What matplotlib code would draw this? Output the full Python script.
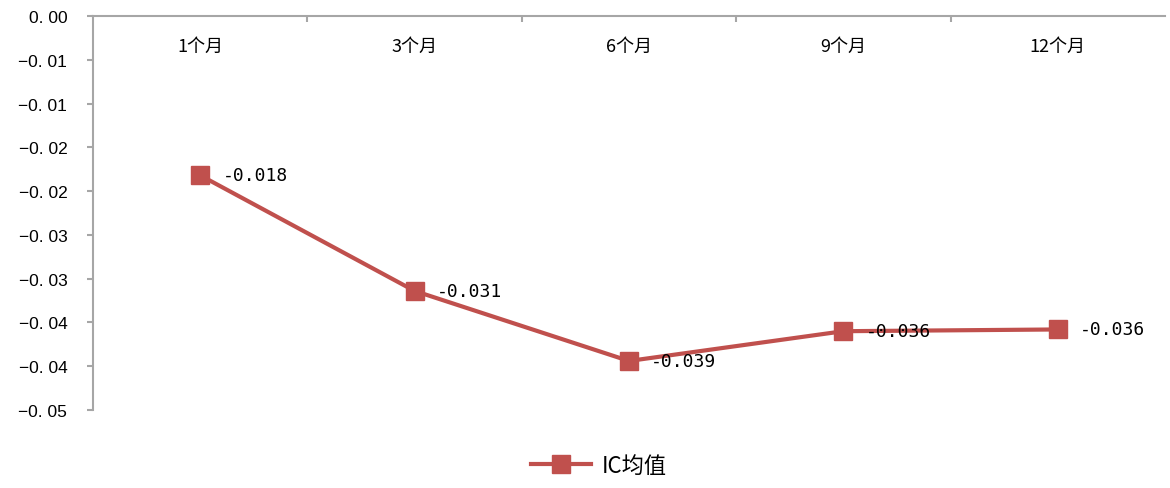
import matplotlib
matplotlib.use("Agg")
import matplotlib.pyplot as plt
import numpy as np

plt.rcParams['font.family'] = ['Noto Sans CJK SC', 'DejaVu Sans']

categories = ['1个月', '3个月', '6个月', '9个月', '12个月']
ic_mean = [-0.0182, -0.0314, -0.0394, -0.0360, -0.0358]
series_name = 'IC均值'
yticks = [0, -0.005, -0.01, -0.015, -0.02, -0.025, -0.03, -0.035, -0.04, -0.045]
ytick_labels = ['0. 00', '\u22120. 01', '\u22120. 01', '\u22120. 02', '\u22120. 02',
                '\u22120. 03', '\u22120. 03', '\u22120. 04', '\u22120. 04', '\u22120. 05']

color = '#C0504D'
gray = '#A6A6A6'

fig = plt.figure(figsize=(11.7, 4.89), dpi=100)
ax = fig.add_axes([0.0795, 0.1595, 0.9162, 0.8057])

x = np.arange(len(categories))
line, = ax.plot(x, ic_mean, color=color, lw=3, marker='s', ms=12.5,
                markerfacecolor=color, markeredgecolor=color, label=series_name)

for xi, v in zip(x, ic_mean):
    ax.annotate(f'{v:.3f}', (xi, v), xytext=(16, 0), textcoords='offset points',
                ha='left', va='center', fontsize=13, family=['DejaVu Sans Mono'])

ax.set_xlim(-0.5, len(categories) - 0.5)
ax.set_ylim(-0.045, 0)
ax.set_yticks(yticks)
ax.set_yticklabels(ytick_labels, family=['Liberation Sans'], fontsize=12.5)

# category ticks: boundaries as major ticks, labels at centres
ax.xaxis.tick_top()
ax.set_xticks(np.arange(0.5, len(categories) - 0.5, 1.0))
ax.set_xticklabels([])
ax.set_xticks(x, minor=True)
ax.set_xticklabels(categories, minor=True, fontsize=13)
ax.tick_params(axis='x', which='major', direction='in', length=4, color=gray, width=1.5)
ax.tick_params(axis='x', which='minor', length=0, pad=-28)
ax.tick_params(axis='y', direction='out', length=4.5, color=gray, width=1.5, pad=14)

for s in ['right', 'bottom']:
    ax.spines[s].set_visible(False)
for s in ['top', 'left']:
    ax.spines[s].set_color(gray)
    ax.spines[s].set_linewidth(1.5)

fig.legend(handles=[line], loc='center', bbox_to_anchor=(0.512, 0.047), frameon=False,
           fontsize=16, handlelength=2.7, handletextpad=0.45)

fig.savefig('out.png', dpi=100)
